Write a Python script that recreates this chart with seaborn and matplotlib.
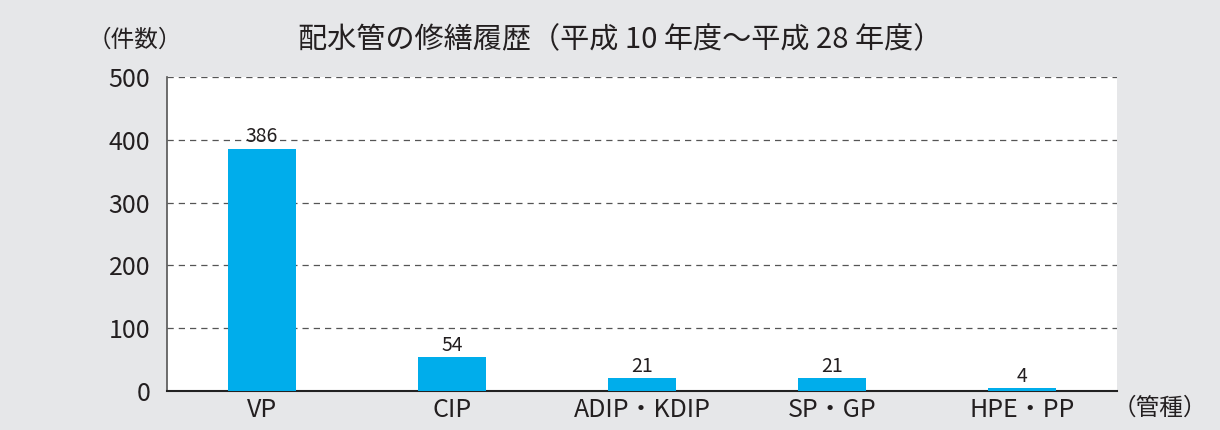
import pandas as pd
import numpy as np
import matplotlib.pyplot as plt
import seaborn as sns

# 管種別の修繕件数 (平成10年度~平成28年度)
pipe_types = ['VP', 'CIP', 'ADIP・KDIP', 'SP・GP', 'HPE・PP']
repair_counts = [386, 54, 21, 21, 4]
y_ticks = [0, 100, 200, 300, 400, 500]

bar_color = '#00ADEB'
bg_color = '#E6E7E9'

sns.set_style('white')
plt.rcParams['font.family'] = ['Noto Sans CJK JP', 'DejaVu Sans']

df = pd.DataFrame({'type': pipe_types, 'count': repair_counts})

fig = plt.figure(figsize=(12.2, 4.3), dpi=100, facecolor=bg_color)
ax = fig.add_axes([167/1220, 1 - 391/430, 950/1220, 314/430])
ax.set_facecolor('white')

sns.barplot(data=df, x='type', y='count', color=bar_color, width=0.36,
            saturation=1, linewidth=0, ax=ax, zorder=3)

ax.set_ylim(0, 500)
ax.set_xlim(-0.5, len(pipe_types) - 0.5)
ax.set_yticks(y_ticks)
ax.yaxis.grid(True, linestyle=(0, (5, 4)), color='#555555', linewidth=0.9, zorder=0)
ax.set_axisbelow(True)

for spine in ['top', 'right']:
    ax.spines[spine].set_visible(False)
ax.spines['left'].set_color('#555555')
ax.spines['bottom'].set_color('#222222')
ax.spines['bottom'].set_linewidth(1.5)
ax.spines['left'].set_linewidth(1.2)

ax.tick_params(axis='both', length=0, labelsize=18, colors='#231f20')
ax.tick_params(axis='y', pad=12)
ax.tick_params(axis='x', pad=4)
ax.set_xlabel('')
ax.set_ylabel('')

for i, v in enumerate(repair_counts):
    ax.text(i, v + 2, str(v), ha='center', va='bottom', fontsize=14, color='#231f20', zorder=4)

lp, rp = '\uff08', '\uff09'
fig.text(135/1220, 1 - 40/430, lp + '件数' + rp, ha='center', va='center', fontsize=17, color='#231f20')
fig.text(620/1220, 1 - 40/430, '配水管の修繕履歴' + lp + '平成 10 年度\u301c平成 28 年度' + rp,
         ha='center', va='center', fontsize=21, color='#231f20')
fig.text(1160/1220, 1 - 408/430, lp + '管種' + rp, ha='center', va='center', fontsize=17, color='#231f20')

plt.savefig('out.png', dpi=100, facecolor=bg_color)
